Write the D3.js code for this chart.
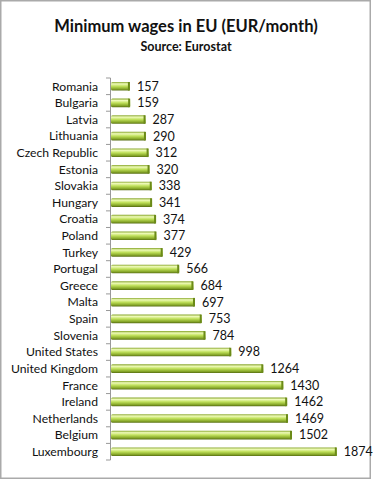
<!DOCTYPE html>
<html>
<head>
<meta charset="utf-8">
<script src="https://cdn.jsdelivr.net/npm/d3@7"></script>
<style>
  body { margin: 0; background: #fff; }
  text { font-family: Lato, "Open Sans", sans-serif; fill: #111; }
</style>
</head>
<body>
<div id="chart"></div>
<script>
var countries = ["Romania", "Bulgaria", "Latvia", "Lithuania", "Czech Republic", "Estonia",
    "Slovakia", "Hungary", "Croatia", "Poland", "Turkey", "Portugal", "Greece", "Malta",
    "Spain", "Slovenia", "United States", "United Kingdom", "France", "Ireland",
    "Netherlands", "Belgium", "Luxembourg"];
var wages = [157, 159, 287, 290, 312, 320, 338, 341, 374, 377, 429, 566, 684, 697,
    753, 784, 998, 1264, 1430, 1462, 1469, 1502, 1874];

var width = 373, height = 480;
var margin = { top: 78, left: 111, bottom: 20 };

var svg = d3.select("#chart").append("svg")
    .attr("width", width)
    .attr("height", height);

// outer frame
svg.append("rect")
    .attr("x", 0.75).attr("y", 0.75)
    .attr("width", 369.5).attr("height", 477.5)
    .attr("fill", "none")
    .attr("stroke", "#aaa")
    .attr("stroke-width", 1.5);

/* gradient for cylinder look */
var defs = svg.append("defs");
var grad = defs.append("linearGradient")
    .attr("id", "barGrad")
    .attr("x1", 0).attr("y1", 0).attr("x2", 0).attr("y2", 1);
grad.append("stop").attr("offset", "0%").attr("stop-color", "#86a52a");
grad.append("stop").attr("offset", "22%").attr("stop-color", "#eefab8");
grad.append("stop").attr("offset", "50%").attr("stop-color", "#bfe05a");
grad.append("stop").attr("offset", "82%").attr("stop-color", "#86a629");
grad.append("stop").attr("offset", "100%").attr("stop-color", "#566d12");

var x = d3.scaleLinear()
    .domain([0, 2000])
    .range([margin.left, margin.left + 241]);

var y = d3.scaleBand()
    .domain(countries)
    .range([margin.top, height - margin.bottom])
    .paddingInner(0.48)
    .paddingOuter(0.24);

// title
svg.append("text")
    .attr("x", 186).attr("y", 32)
    .attr("text-anchor", "middle")
    .style("font-weight", "bold")
    .style("font-size", "16.5px")
    .text("Minimum wages in EU (EUR/month)");
svg.append("text")
    .attr("x", 186).attr("y", 51)
    .attr("text-anchor", "middle")
    .style("font-weight", "bold")
    .style("font-size", "12.5px")
    .text("Source: Eurostat");

// bars
var g = svg.append("g");
g.selectAll("rect.bar")
    .data(wages)
    .enter().append("rect")
    .attr("class", "bar")
    .attr("x", x(0))
    .attr("y", function(d, i) { return y(countries[i]); })
    .attr("width", function(d) { return x(d) - x(0); })
    .attr("height", y.bandwidth())
    .attr("rx", 1.5)
    .attr("fill", "url(#barGrad)");

// end caps
g.selectAll("rect.cap")
    .data(wages)
    .enter().append("rect")
    .attr("class", "cap")
    .attr("x", function(d) { return x(d) - 2; })
    .attr("y", function(d, i) { return y(countries[i]); })
    .attr("width", 2)
    .attr("height", y.bandwidth())
    .attr("fill", "#6b8a18");

// value labels
g.selectAll("text.val")
    .data(wages)
    .enter().append("text")
    .attr("class", "val")
    .attr("x", function(d) { return x(d) + 7; })
    .attr("y", function(d, i) { return y(countries[i]) + y.bandwidth() / 2; })
    .attr("dy", "0.35em")
    .style("font-size", "12.5px")
    .text(function(d) { return d; });

// category axis
var yAxis = svg.append("g")
    .attr("transform", "translate(" + margin.left + ",0)");
yAxis.append("line")
    .attr("x1", -0.5).attr("x2", -0.5)
    .attr("y1", margin.top).attr("y2", height - margin.bottom)
    .attr("stroke", "#999");
var step = y.step();
yAxis.selectAll("line.tick")
    .data(d3.range(countries.length + 1))
    .enter().append("line")
    .attr("class", "tick")
    .attr("x1", -5).attr("x2", -0.5)
    .attr("y1", function(i) { return margin.top + i * step; })
    .attr("y2", function(i) { return margin.top + i * step; })
    .attr("stroke", "#999");
yAxis.selectAll("text")
    .data(countries)
    .enter().append("text")
    .attr("x", -13)
    .attr("y", function(d) { return y(d) + y.bandwidth() / 2; })
    .attr("dy", "0.35em")
    .attr("text-anchor", "end")
    .style("font-size", "12.2px")
    .text(function(d) { return d; });
</script>
</body>
</html>
